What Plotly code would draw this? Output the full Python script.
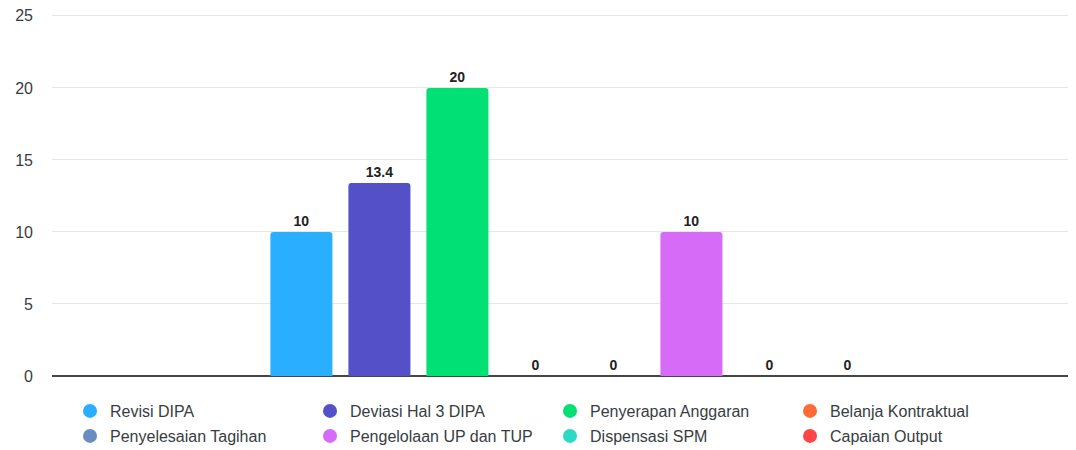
import plotly.graph_objects as go

category = ["Indikator"]
series_names = [
    "Revisi DIPA", "Deviasi Hal 3 DIPA", "Penyerapan Anggaran", "Belanja Kontraktual",
    "Penyelesaian Tagihan", "Pengelolaan UP dan TUP", "Dispensasi SPM", "Capaian Output",
]
series_values = [10, 13.4, 20, 0, 0, 10, 0, 0]
series_colors = [
    "#2aaeff", "#5450c8", "#00e074", "#ff6a35",
    "#6b8cbf", "#d66bf8", "#2cd9c5", "#ff4545",
]
y_ticks = [0, 5, 10, 15, 20, 25]

FONT = "Liberation Sans, Arial, sans-serif"
TXT = "#373d3f"

fig = go.Figure()
for i, (name, val, col) in enumerate(zip(series_names, series_values, series_colors)):
    fig.add_trace(go.Bar(
        x=category, y=[val], name=name, marker=dict(color=col, line=dict(width=0)),
        text=[val], texttemplate="%{y}", textposition="outside",
        textfont=dict(family=FONT, size=14, color="#222222", weight="bold"),
        cliponaxis=False, showlegend=False,
    ))
for i, (name, col) in enumerate(zip(series_names, series_colors)):
    fig.add_trace(go.Scatter(
        x=[None], y=[None], mode="markers", name=name,
        marker=dict(color=col, size=14, symbol="circle"),
        legend="legend" if i < 4 else "legend2", showlegend=True,
    ))

legend_common = dict(
    orientation="h", xanchor="left", yanchor="middle", x=0.0176,
    entrywidth=195, entrywidthmode="pixels", itemwidth=30,
    font=dict(family=FONT, size=16, color=TXT), bgcolor="rgba(0,0,0,0)",
    tracegroupgap=0,
)

# the browser page adds an 8px body margin, so the figure is offset by 8px
fig.update_layout(
    width=1076, height=450,
    margin=dict(l=44, r=8, t=5.12, b=82, autoexpand=False),
    paper_bgcolor="white", plot_bgcolor="white",
    barmode="group", bargap=0.3, bargroupgap=0.205,
    barcornerradius=3,
    font=dict(family=FONT, color=TXT),
    legend=dict(legend_common, y=-0.0964),
    legend2=dict(legend_common, y=-0.1653),
    xaxis=dict(
        type="category", range=[-0.586, 0.5626], showticklabels=False,
        showgrid=False, zeroline=False, showline=False, fixedrange=True,
        automargin=False,
    ),
    yaxis=dict(
        range=[0, 25.2], tickvals=y_ticks, showgrid=True, gridcolor="#e6e6e6",
        gridwidth=1, zeroline=True, zerolinecolor="#444444", zerolinewidth=1.5,
        tickfont=dict(family=FONT, size=16, color=TXT),
        ticklabelstandoff=18, ticklabeloverflow="allow",
        showline=False, fixedrange=True, automargin=False,
    ),
)

fig.write_html("out.html")
